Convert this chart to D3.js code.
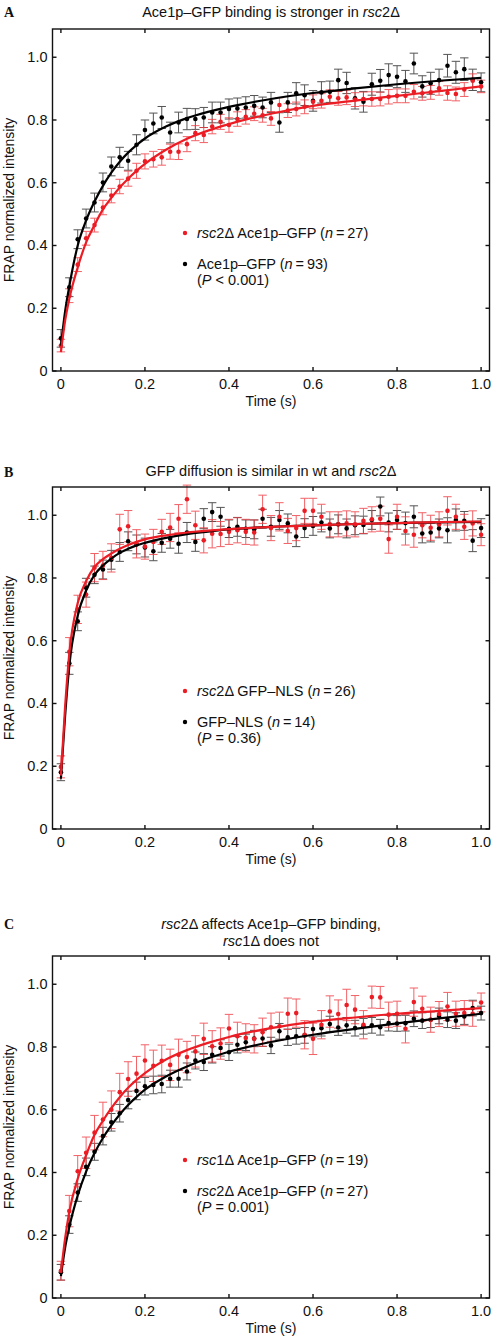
<!DOCTYPE html>
<html><head><meta charset="utf-8">
<script src="https://cdn.jsdelivr.net/npm/d3@7"></script>
<style>body{margin:0;background:#fff} svg{display:block} text{font-family:"Liberation Sans",Arial,sans-serif;fill:#111}</style>
</head><body><svg id="c" width="492" height="1341"></svg>
<script>
const times = [0,0.02,0.04,0.06,0.08,0.1,0.12,0.14,0.16,0.18,
0.2,0.22,0.24,0.26,0.28,0.3,0.32,0.34,0.36,0.38,
0.4,0.42,0.44,0.46,0.48,0.5,0.52,0.54,0.56,0.58,
0.6,0.62,0.64,0.66,0.68,0.7,0.72,0.74,0.76,0.78,
0.8,0.82,0.84,0.86,0.88,0.9,0.92,0.94,0.96,0.98,1.0];

const xTicks = [0,0.2,0.4,0.6,0.8,1.0];
const xTickLabels = ["0","0.2","0.4","0.6","0.8","1.0"];
const yTicks = [0,0.2,0.4,0.6,0.8,1.0];
const yTickLabels = ["0","0.2","0.4","0.6","0.8","1.0"];

// Panel A
const aBlack = [0.104,0.267,0.42,0.486,0.537,0.601,0.652,0.681,0.67,0.721,
0.768,0.789,0.808,0.76,0.792,0.803,0.803,0.808,0.824,0.824,
0.835,0.837,0.84,0.845,0.84,0.856,0.792,0.856,0.885,0.879,
0.861,0.888,0.89,0.927,0.918,0.869,0.858,0.914,0.925,0.943,
0.938,0.923,0.98,0.907,0.917,0.927,0.973,0.952,0.962,0.928,0.92];
const aBlackErr = [0.028,0.03,0.03,0.03,0.03,0.03,0.03,0.032,0.03,0.032,
0.032,0.033,0.035,0.033,0.033,0.034,0.033,0.032,0.033,0.033,
0.032,0.033,0.034,0.033,0.033,0.032,0.031,0.032,0.034,0.033,
0.033,0.034,0.034,0.035,0.034,0.034,0.033,0.035,0.036,0.036,
0.035,0.035,0.033,0.034,0.035,0.035,0.036,0.035,0.036,0.034,0.03];
const aRed = [0.081,0.24,0.339,0.423,0.465,0.521,0.559,0.588,0.613,0.638,
0.668,0.675,0.681,0.699,0.699,0.723,0.758,0.752,0.779,0.794,
0.784,0.803,0.81,0.82,0.815,0.805,0.848,0.83,0.835,0.842,
0.858,0.861,0.874,0.869,0.872,0.865,0.867,0.867,0.867,0.874,
0.877,0.877,0.89,0.885,0.888,0.901,0.886,0.883,0.897,0.925,0.907];
const aRedErr = [0.02,0.022,0.022,0.022,0.022,0.023,0.023,0.023,0.024,0.024,
0.024,0.025,0.025,0.024,0.025,0.024,0.024,0.024,0.023,0.024,
0.023,0.023,0.023,0.022,0.022,0.022,0.023,0.022,0.022,0.022,
0.022,0.023,0.022,0.022,0.023,0.022,0.022,0.023,0.022,0.023,
0.022,0.022,0.023,0.022,0.022,0.022,0.023,0.022,0.022,0.022,0.02];

// Panel B
const bBlack = [0.181,0.528,0.662,0.769,0.81,0.827,0.858,0.883,0.917,0.907,
0.897,0.885,0.912,0.925,0.909,0.945,0.915,0.989,1.01,0.995,
0.957,0.963,0.957,0.955,0.989,0.963,0.985,0.974,0.932,0.959,
0.966,0.977,0.958,0.971,0.958,0.968,0.969,0.985,1.028,0.977,
0.985,0.975,0.995,0.942,0.945,0.958,0.952,0.985,0.982,0.919,0.959];
const bBlackErr = [0.027,0.035,0.03,0.03,0.028,0.03,0.03,0.03,0.03,0.03,
0.03,0.03,0.03,0.03,0.03,0.032,0.03,0.032,0.03,0.03,
0.028,0.03,0.028,0.03,0.03,0.03,0.03,0.03,0.032,0.03,
0.03,0.03,0.03,0.03,0.03,0.03,0.028,0.03,0.03,0.03,
0.03,0.035,0.035,0.03,0.03,0.03,0.04,0.035,0.03,0.035,0.03];
const bRed = [0.198,0.565,0.70,0.747,0.833,0.84,0.864,0.955,0.965,0.909,
0.9,0.915,0.947,0.961,0.989,1.051,0.968,0.92,0.941,0.94,
0.947,0.952,0.947,0.945,1.019,0.959,0.995,0.95,0.959,1.014,
1.014,0.995,0.971,0.971,0.974,0.971,0.982,0.987,0.989,0.924,
0.995,0.95,0.938,0.968,0.96,0.971,1.014,0.995,0.963,0.974,0.938];
const bRedErr = [0.035,0.045,0.045,0.04,0.045,0.045,0.045,0.048,0.05,0.045,
0.04,0.04,0.04,0.045,0.045,0.045,0.045,0.04,0.045,0.04,
0.04,0.04,0.04,0.04,0.045,0.04,0.045,0.04,0.04,0.04,
0.04,0.04,0.04,0.04,0.04,0.04,0.04,0.04,0.04,0.045,
0.04,0.045,0.04,0.04,0.04,0.04,0.045,0.04,0.04,0.04,0.035];

// Panel C
const cBlack = [0.082,0.234,0.336,0.418,0.466,0.516,0.56,0.589,0.631,0.66,
0.675,0.679,0.682,0.699,0.699,0.722,0.757,0.752,0.775,0.797,
0.783,0.807,0.815,0.827,0.827,0.805,0.85,0.831,0.834,0.837,
0.857,0.86,0.873,0.862,0.869,0.86,0.866,0.869,0.863,0.876,
0.875,0.876,0.89,0.884,0.887,0.899,0.887,0.884,0.897,0.924,0.908];
const cBlackErr = [0.025,0.028,0.028,0.028,0.027,0.028,0.028,0.028,0.028,0.028,
0.028,0.028,0.028,0.027,0.027,0.027,0.027,0.027,0.026,0.026,
0.026,0.026,0.026,0.026,0.025,0.026,0.025,0.026,0.025,0.025,
0.025,0.025,0.025,0.025,0.025,0.025,0.025,0.025,0.025,0.025,
0.025,0.025,0.025,0.025,0.025,0.025,0.025,0.025,0.025,0.025,0.022];
const cRed = [0.087,0.277,0.404,0.463,0.527,0.569,0.6,0.656,0.698,0.715,
0.757,0.74,0.756,0.743,0.775,0.768,0.786,0.826,0.802,0.811,
0.859,0.834,0.829,0.826,0.847,0.863,0.866,0.906,0.908,0.839,
0.826,0.871,0.913,0.905,0.934,0.919,0.871,0.959,0.958,0.903,
0.906,0.858,0.943,0.922,0.887,0.905,0.929,0.906,0.908,0.906,0.942];
const cRedErr = [0.03,0.05,0.05,0.05,0.055,0.055,0.06,0.06,0.055,0.055,
0.05,0.05,0.05,0.05,0.05,0.05,0.05,0.05,0.05,0.05,
0.045,0.045,0.045,0.045,0.045,0.045,0.045,0.05,0.045,0.045,
0.05,0.045,0.05,0.045,0.05,0.045,0.045,0.035,0.035,0.04,
0.04,0.045,0.045,0.04,0.04,0.04,0.045,0.04,0.04,0.04,0.03];

// Fitted curves
const fitTimes = [0,0.01,0.02,0.04,0.06,0.08,0.1,0.12,0.14,0.16,0.18,0.2,0.25,0.3,0.35,0.4,0.5,0.6,0.7,0.8,0.9,1.0];
const aBlackFit = [0.08,0.19,0.27,0.40,0.48,0.54,0.59,0.632,0.667,0.696,0.72,0.741,0.779,0.806,0.826,0.842,0.867,0.886,0.901,0.914,0.925,0.934];
const aRedFit = [0.06,0.16,0.23,0.33,0.41,0.465,0.515,0.552,0.585,0.613,0.638,0.66,0.705,0.74,0.766,0.787,0.82,0.845,0.862,0.877,0.892,0.907];
const bBlackFit = [0.16,0.36,0.52,0.68,0.76,0.81,0.84,0.862,0.88,0.893,0.904,0.912,0.928,0.94,0.948,0.955,0.963,0.968,0.972,0.975,0.977,0.979];
const bRedFit = [0.17,0.39,0.56,0.72,0.79,0.835,0.86,0.878,0.893,0.905,0.915,0.923,0.936,0.945,0.951,0.956,0.963,0.968,0.972,0.975,0.978,0.98];
const cBlackFit = [0.07,0.16,0.226,0.327,0.403,0.462,0.51,0.55,0.585,0.615,0.641,0.664,0.706,0.738,0.764,0.785,0.816,0.839,0.858,0.875,0.891,0.906];
const cRedFit = [0.08,0.19,0.275,0.38,0.455,0.52,0.565,0.605,0.64,0.67,0.695,0.717,0.76,0.79,0.813,0.832,0.86,0.88,0.894,0.906,0.915,0.924];

const RED = "#ec1c24", BLACK = "#000";
const svg = d3.select("#c");
const X0 = 52.5, X1 = 489.5;

function addText(g, parts, attrs){
  const t = g.append("text");
  Object.entries(attrs).forEach(([k,v])=>t.attr(k,v));
  parts.forEach(p=>{
    const s = t.append("tspan").text(p.t);
    if(p.i) s.style("font-style","italic");
  });
  return t;
}

function panel(cfg){
  const top = cfg.top, bottom = cfg.top + 342;
  const x = d3.scaleLinear().domain([-0.02,1.02]).range([X0,X1]);
  const y = d3.scaleLinear().domain([0,1.09]).range([bottom,top]);
  const g = svg.append("g");

  g.append("text").attr("x",4).attr("y",cfg.letterY).text(cfg.letter)
    .style("font-family","'Liberation Serif','Times New Roman',serif").style("font-weight","bold").style("font-size","14px");
  cfg.title.forEach((line,i)=>{
    addText(g, line, {x:(X0+X1)/2, y:cfg.titleY + i*17, "text-anchor":"middle", "font-size":"14.5px"});
  });

  const series = [
    {v:cfg.black, e:cfg.blackErr, c:BLACK, ec:"#2a2a2a"},
    {v:cfg.red, e:cfg.redErr, c:RED, ec:"#ef3a40"}
  ];
  series.forEach(s=>{
    const eg = g.append("g").attr("stroke",s.ec).attr("stroke-width",1).attr("opacity",0.8);
    times.forEach((t,i)=>{
      const cx = x(t), y1 = y(s.v[i]-s.e[i]), y2 = y(s.v[i]+s.e[i]);
      eg.append("line").attr("x1",cx).attr("x2",cx).attr("y1",y1).attr("y2",y2);
      eg.append("line").attr("x1",cx-4.2).attr("x2",cx+4.2).attr("y1",y1).attr("y2",y1);
      eg.append("line").attr("x1",cx-4.2).attr("x2",cx+4.2).attr("y1",y2).attr("y2",y2);
    });
  });
  series.forEach(s=>{
    g.append("g").selectAll("circle").data(times).join("circle")
      .attr("cx",d=>x(d)).attr("cy",(d,i)=>y(s.v[i])).attr("r",2.3).attr("fill",s.c);
  });
  const line = d3.line().x(d=>x(d[0])).y(d=>y(d[1])).curve(d3.curveMonotoneX);
  [[cfg.blackFit,BLACK],[cfg.redFit,RED]].forEach(([f,c])=>{
    g.append("path").datum(fitTimes.map((t,i)=>[t,f[i]])).attr("d",line)
      .attr("fill","none").attr("stroke",c).attr("stroke-width",2.2);
  });

  g.append("rect").attr("x",X0).attr("y",top).attr("width",X1-X0).attr("height",bottom-top)
    .attr("fill","none").attr("stroke","#111").attr("stroke-width",1.4);
  const tk = g.append("g").attr("stroke","#111").attr("stroke-width",1.4);
  xTicks.forEach(t=>{
    tk.append("line").attr("x1",x(t)).attr("x2",x(t)).attr("y1",bottom).attr("y2",bottom-4);
    tk.append("line").attr("x1",x(t)).attr("x2",x(t)).attr("y1",top).attr("y2",top+4);
  });
  yTicks.forEach(t=>{
    tk.append("line").attr("x1",X0).attr("x2",X0+4).attr("y1",y(t)).attr("y2",y(t));
    tk.append("line").attr("x1",X1).attr("x2",X1-4).attr("y1",y(t)).attr("y2",y(t));
  });
  xTicks.forEach((t,i)=>{
    g.append("text").attr("x",x(t)).attr("y",bottom+18).attr("text-anchor","middle")
      .attr("font-size","14.5px").text(xTickLabels[i]);
  });
  yTicks.forEach((t,i)=>{
    g.append("text").attr("x",X0-5).attr("y",y(t)+5).attr("text-anchor","end")
      .attr("font-size","14.5px").text(yTickLabels[i]);
  });
  g.append("text").attr("x",(X0+X1)/2).attr("y",bottom+35).attr("text-anchor","middle")
    .attr("font-size","14px").text("Time (s)");
  g.append("text").attr("transform",`translate(14,${(top+bottom)/2}) rotate(-90)`)
    .attr("text-anchor","middle").attr("font-size","14px").text("FRAP normalized intensity");

  const ly = top + 204;
  g.append("circle").attr("cx",185).attr("cy",ly).attr("r",2.2).attr("fill",RED);
  addText(g, cfg.leg1, {x:197, y:ly+5, "font-size":"14.5px"});
  g.append("circle").attr("cx",185).attr("cy",ly+31).attr("r",2.2).attr("fill",BLACK);
  addText(g, cfg.leg2, {x:197, y:ly+36, "font-size":"14.5px"});
  addText(g, cfg.leg3, {x:197, y:ly+52, "font-size":"14.5px"});
}

panel({top:29, letter:"A", letterY:17, titleY:17,
  title:[[{t:"Ace1p–GFP binding is stronger in "},{t:"rsc",i:1},{t:"2Δ"}]],
  black:aBlack, blackErr:aBlackErr, red:aRed, redErr:aRedErr, blackFit:aBlackFit, redFit:aRedFit,
  leg1:[{t:"rsc",i:1},{t:"2Δ Ace1p–GFP ("},{t:"n",i:1},{t:"\u2009=\u200927)"}],
  leg2:[{t:"Ace1p–GFP ("},{t:"n",i:1},{t:"\u2009=\u200993)"}],
  leg3:[{t:"("},{t:"P",i:1},{t:" < 0.001)"}]});
panel({top:487, letter:"B", letterY:477, titleY:476,
  title:[[{t:"GFP diffusion is similar in wt and "},{t:"rsc",i:1},{t:"2Δ"}]],
  black:bBlack, blackErr:bBlackErr, red:bRed, redErr:bRedErr, blackFit:bBlackFit, redFit:bRedFit,
  leg1:[{t:"rsc",i:1},{t:"2Δ GFP–NLS ("},{t:"n",i:1},{t:"\u2009=\u200926)"}],
  leg2:[{t:"GFP–NLS ("},{t:"n",i:1},{t:"\u2009=\u200914)"}],
  leg3:[{t:"("},{t:"P",i:1},{t:" = 0.36)"}]});
panel({top:956, letter:"C", letterY:929, titleY:929,
  title:[[{t:"rsc",i:1},{t:"2Δ affects Ace1p–GFP binding,"}],[{t:"rsc",i:1},{t:"1Δ does not"}]],
  black:cBlack, blackErr:cBlackErr, red:cRed, redErr:cRedErr, blackFit:cBlackFit, redFit:cRedFit,
  leg1:[{t:"rsc",i:1},{t:"1Δ Ace1p–GFP ("},{t:"n",i:1},{t:"\u2009=\u200919)"}],
  leg2:[{t:"rsc",i:1},{t:"2Δ Ace1p–GFP ("},{t:"n",i:1},{t:"\u2009=\u200927)"}],
  leg3:[{t:"("},{t:"P",i:1},{t:" = 0.001)"}]});
</script></body></html>
